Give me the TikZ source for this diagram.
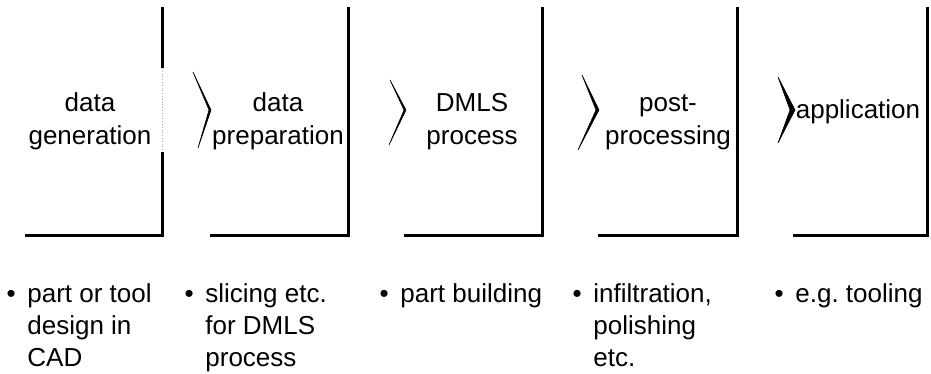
\documentclass[tikz,border=0pt]{standalone}
\usepackage{fontspec}
\setmainfont{Liberation Sans}
\usetikzlibrary{positioning}
\frenchspacing

\begin{document}
\begin{tikzpicture}[x=0.5pt,y=-0.5pt]
\tikzstyle{wall}=[line width=1.5pt, line cap=butt, line join=miter]
\tikzstyle{stage}=[font=\fontsize{13}{16.5}\selectfont, align=center, inner sep=0pt, anchor=base]
\tikzstyle{task}=[font=\fontsize{13}{16}\selectfont, align=left, inner sep=0pt, anchor=base west]
\tikzstyle{chevron}=[fill=black, draw=black, line width=0.3pt, line join=miter]
\newcommand{\bul}{\llap{\textbullet\hspace{0.45em}}}

\useasboundingbox (0,0) rectangle (931,374);

% stage walls
	\draw[wall] (25,235) -- (162,235) -- (162,152);
	\draw[wall] (162,68) -- (162,7);
	\draw[gray!60, densely dotted, line width=0.4pt] (162,68) -- (162,152);
	\draw[wall] (210,235) -- (348,235) -- (348,7);
	\draw[wall] (404,235) -- (542,235) -- (542,7);
	\draw[wall] (598,235) -- (737,235) -- (737,7);
	\draw[wall] (793,235) -- (927,235) -- (927,7);

% stage names (base = last line)
	\node[stage] (gen)  at (90,144)  {data\\generation};
	\node[stage] (prep) at (278,144) {data\\preparation};
	\node[stage] (dmls) at (472,144) {DMLS\\process};
	\node[stage] (post) at (668,144) {post-\\processing};
	\node[stage] (app)  at (858,119) {application};

% chevrons between stages
	\path[chevron] (193,72) -- (211,110) -- (198,148) -- (209,110) -- cycle;
	\path[chevron] (390,80) -- (406,110) -- (389,145) -- (404,110) -- cycle;
	\path[chevron] (582,75) -- (599,110) -- (578,150) -- (596,110) -- cycle;
	\path[chevron] (778,77) -- (795,110) -- (778,143) -- (790,110) -- cycle;

% tasks of each stage
	\node[task] (t_1) at (27,366)  {\bul part or tool\\design in\\CAD};
	\node[task] (t_2) at (205,366) {\bul slicing etc.\\for DMLS\\process};
	\node[task] (t_3) at (400,302) {\bul part building};
	\node[task] (t_4) at (593,366) {\bul infiltration,\\polishing\\etc.};
	\node[task] (t_5) at (795,302) {\bul e.g. tooling};

\end{tikzpicture}
\end{document}
